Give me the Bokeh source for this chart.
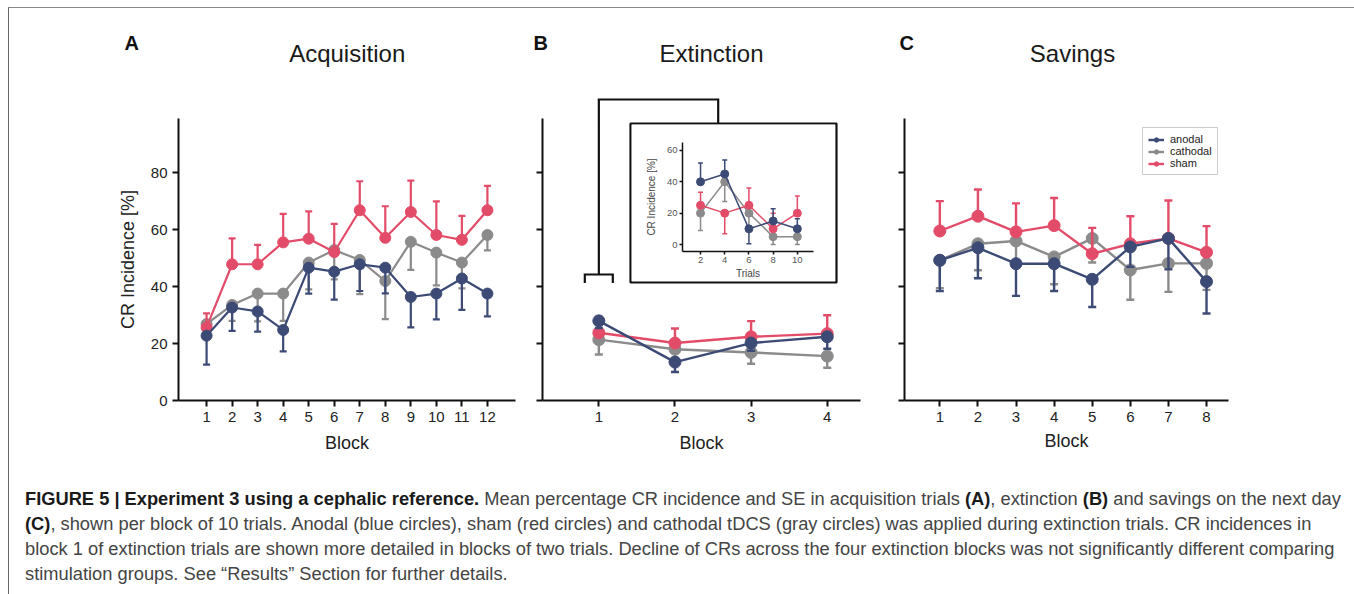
from bokeh.plotting import figure
from bokeh.models import (Range1d, Legend, LegendItem, FixedTicker, Div, GridBox)
from bokeh.core.properties import value
from bokeh.layouts import row, column
from bokeh.embed import file_html
from bokeh.resources import INLINE

# ---------------- data ----------------
groups = ["anodal", "cathodal", "sham"]

acq_blocks = [1, 2, 3, 4, 5, 6, 7, 8, 9, 10, 11, 12]
acq_anodal = [22.8, 32.7, 31.3, 24.8, 46.7, 45.3, 47.9, 46.7, 36.4, 37.6, 42.9, 37.6]
acq_anodal_bar = [12.6, 24.5, 24.2, 17.3, 37.6, 35.5, 38.5, 37.7, 25.7, 28.5, 31.9, 29.6]
acq_cathodal = [26.9, 33.6, 37.6, 37.6, 48.5, 52.9, 49.4, 42.0, 55.8, 52.0, 48.5, 58.2]
acq_cathodal_bar = [24.0, 28.0, 27.8, 28.0, 39.1, 42.6, 37.4, 28.6, 45.9, 40.5, 39.4, 52.8]
acq_sham = [25.7, 47.9, 47.9, 55.6, 56.9, 52.2, 66.9, 57.2, 66.3, 58.2, 56.5, 66.9]
acq_sham_bar = [30.6, 57.0, 54.7, 65.6, 66.5, 62.1, 77.1, 68.3, 77.3, 70.0, 64.9, 75.5]

ext_blocks = [1, 2, 3, 4]
ext_anodal = [28.0, 13.5, 20.2, 22.4]
ext_anodal_bar = [25.5, 10.0, 17.5, 18.2]
ext_cathodal = [21.4, 18.0, 16.9, 15.6]
ext_cathodal_bar = [16.2, 15.0, 12.9, 11.5]
ext_sham = [23.8, 20.2, 22.4, 23.5]
ext_sham_bar = [29.4, 25.3, 27.9, 30.0]

ins_trials = [2, 4, 6, 8, 10]
ins_anodal = [40, 45, 10, 15, 10]
ins_anodal_bar = [52, 54, 0.4, 22.8, 16.4]
ins_cathodal = [20, 40, 20, 5, 5]
ins_cathodal_bar = [9, 27.4, 12, 0, 0]
ins_sham = [25, 20, 25, 10, 20]
ins_sham_bar = [33.4, 6.8, 36, 20, 31]

sav_blocks = [1, 2, 3, 4, 5, 6, 7, 8]
sav_anodal = [49.3, 53.7, 48.1, 48.1, 42.6, 54.0, 57.0, 41.8]
sav_anodal_bar = [38.5, 43.0, 36.8, 38.5, 32.9, 47.0, 46.1, 30.6]
sav_cathodal = [49.3, 55.1, 56.1, 50.5, 57.0, 45.9, 48.2, 48.2]
sav_cathodal_bar = [39.5, 45.8, 48.0, 40.9, 48.5, 35.4, 38.2, 38.9]
sav_sham = [59.6, 64.8, 59.3, 61.5, 51.6, 55.1, 57.0, 52.1]
sav_sham_bar = [70.1, 74.2, 69.3, 71.2, 60.7, 64.8, 70.3, 61.3]

y_ticks = [0, 20, 40, 60, 80]
ins_y_ticks = [0, 20, 40, 60]

titles = ["Acquisition", "Extinction", "Savings"]
letters = ["A", "B", "C"]

# ---------------- styles ----------------
COLORS = {"anodal": "#3c4a76", "cathodal": "#8b8b8b", "sham": "#e34c68"}
FONT = "Liberation Sans"
DRAW_ORDER = ["cathodal", "sham", "anodal"]


def style_axes(p, tick_size="15px"):
    for ax in (p.xaxis, p.yaxis):
        ax.axis_line_width = 2
        ax.axis_line_color = "#111111"
        ax.major_tick_line_width = 2
        ax.major_tick_line_color = "#111111"
        ax.major_tick_out = 6
        ax.major_tick_in = 0
        ax.minor_tick_line_color = None
        ax.major_label_text_font = FONT
        ax.major_label_text_font_size = tick_size
        ax.major_label_text_color = "#222222"
        ax.axis_label_text_font = FONT
        ax.axis_label_text_font_style = "normal"
        ax.axis_label_text_color = "#222222"
    p.xgrid.grid_line_color = None
    p.ygrid.grid_line_color = None
    p.outline_line_color = None
    p.xaxis.major_label_standoff = 5
    p.yaxis.major_label_standoff = 5


def new_fig(w, h, mb, xr, yr, **kw):
    p = figure(width=w, height=h, x_range=Range1d(*xr), y_range=Range1d(*yr),
               output_backend="svg", toolbar_location=None,
               min_border_left=mb[0], min_border_right=mb[1],
               min_border_top=mb[2], min_border_bottom=mb[3], **kw)
    p.background_fill_color = "white"
    p.border_fill_color = "white"
    return p


def draw_series(p, x, series, size, lw, cap):
    rends = {}
    for g in DRAW_ORDER:
        mean, bar = series[g]
        c = COLORS[g]
        p.segment(x0=x, y0=mean, x1=x, y1=bar, line_color=c, line_width=lw)
        p.scatter(x=x, y=bar, marker="dash", size=cap, line_color=c, line_width=lw)
        ln = p.line(x=x, y=mean, line_color=c, line_width=lw)
        sc = p.scatter(x=x, y=mean, size=size, fill_color=c, line_color=c)
        rends[g] = [ln, sc]
    return rends


class Geo:
    """page-pixel -> data helper for decoration placement."""
    def __init__(self, left, bottom, x0, xs, y0, ys):
        self.left, self.bottom, self.x0, self.xs, self.y0, self.ys = left, bottom, x0, xs, y0, ys

    def x(self, px):
        return self.x0 + (px - self.left) / self.xs

    def y(self, py):
        return self.y0 + (self.bottom - py) / self.ys


YS = 2.844  # px per % in main panels
ROW_H = 400

# ---------------- header (panel letters and titles) ----------------
pH = figure(width=1339, height=62, x_range=Range1d(9, 1348), y_range=Range1d(70, 8),
            output_backend="svg", toolbar_location=None, x_axis_type=None, y_axis_type=None,
            min_border=0)
pH.outline_line_color = None
pH.xgrid.grid_line_color = None
pH.ygrid.grid_line_color = None
pH.text(x=[124, 533, 899], y=[42.7] * 3, text=letters, text_font=value(FONT),
        text_font_size=value("20px"), text_font_style="bold", text_color="#111111",
        text_align="left", text_baseline="alphabetic")
pH.text(x=[346.7, 711, 1072], y=[53.3] * 3, text=titles, text_font=value(FONT),
        text_font_size=value("24px"), text_color="#1a1a1a",
        text_align="center", text_baseline="alphabetic")

# ---------------- panel A ----------------
pA = new_fig(521, ROW_H, (169, 15, 48, 70), (-0.1, 13.1), (0, 282 / YS))
style_axes(pA)
pA.xaxis.ticker = FixedTicker(ticks=acq_blocks)
pA.yaxis.ticker = FixedTicker(ticks=y_ticks)
pA.xaxis.axis_label = "Block"
pA.yaxis.axis_label = "CR Incidence [%]"
pA.xaxis.axis_label_text_font_size = "18px"
pA.yaxis.axis_label_text_font_size = "18px"
pA.xaxis.axis_label_standoff = 8
pA.yaxis.axis_label_standoff = 10
draw_series(pA, acq_blocks, {"anodal": (acq_anodal, acq_anodal_bar),
                             "cathodal": (acq_cathodal, acq_cathodal_bar),
                             "sham": (acq_sham, acq_sham_bar)}, 11, 2.2, 7)

# ---------------- panel B ----------------
bx0, bx1 = 0.26, 4.437
pB = new_fig(350, ROW_H, (12, 20, 25, 70), (bx0, bx1), (0, 305 / YS))
style_axes(pB)
pB.xaxis.ticker = FixedTicker(ticks=ext_blocks)
pB.yaxis.ticker = FixedTicker(ticks=y_ticks)
pB.yaxis.major_label_overrides = {t: "" for t in y_ticks}
pB.yaxis.bounds = (0, 282 / YS)
pB.xaxis.axis_label = "Block"
pB.xaxis.axis_label_text_font_size = "18px"
pB.xaxis.axis_label_standoff = 8
gB = Geo(542, 400, bx0, 318 / (bx1 - bx0), 0, YS)

# inset frame (drawn under the inset figure) and bracket
pB.quad(left=gB.x(630), right=gB.x(836), top=gB.y(123), bottom=gB.y(282),
        fill_color="white", line_color="#111111", line_width=2.2)
pB.multi_line(xs=[[gB.x(584.3), gB.x(584.3), gB.x(612.3), gB.x(612.3)],
                  [1, 1, gB.x(717.7), gB.x(717.7)]],
              ys=[[gB.y(282.5), gB.y(274), gB.y(274), gB.y(282.5)],
                  [gB.y(274), gB.y(99), gB.y(99), gB.y(123)]],
              line_color="#111111", line_width=2.2, line_join="miter")
draw_series(pB, ext_blocks, {"anodal": (ext_anodal, ext_anodal_bar),
                             "cathodal": (ext_cathodal, ext_cathodal_bar),
                             "sham": (ext_sham, ext_sham_bar)}, 12, 2.4, 8)

# ---------------- inset ----------------
ix0, ix1 = 0.51, 0.51 + 131 / 12.1
iy0 = -7 / 1.567
iy1 = iy0 + 109 / 1.567
pI = new_fig(204, 157, (51, 22, 18, 30), (ix0, ix1), (iy0, iy1))
style_axes(pI, tick_size="9.5px")
for ax in (pI.xaxis, pI.yaxis):
    ax.axis_line_width = 1.5
    ax.major_tick_line_width = 1.5
    ax.major_tick_out = 3
    ax.major_label_text_color = "#555555"
    ax.axis_label_text_font_size = "10px"
    ax.axis_label_text_color = "#444444"
pI.xaxis.axis_label_standoff = 2
pI.yaxis.axis_label_standoff = 7
pI.xaxis.major_label_standoff = 2
pI.yaxis.major_label_standoff = 2
pI.xaxis.ticker = FixedTicker(ticks=ins_trials)
pI.yaxis.ticker = FixedTicker(ticks=ins_y_ticks)
pI.xaxis.axis_label = "Trials"
pI.yaxis.axis_label = "CR Incidence [%]"
draw_series(pI, ins_trials, {"anodal": (ins_anodal, ins_anodal_bar),
                             "cathodal": (ins_cathodal, ins_cathodal_bar),
                             "sham": (ins_sham, ins_sham_bar)}, 8, 1.5, 5)

gridB = GridBox(children=[(pB, 0, 0, 3, 3), (pI, 1, 1)],
                rows=["54px", "157px", "189px"], cols=["101px", "204px", "45px"])

# ---------------- panel C ----------------
cx0, cx1 = 0.073, 0.073 + 324 / 38.1
pC = new_fig(468, ROW_H, (24, 120, 48, 70), (cx0, cx1), (0, 282 / YS))
style_axes(pC)
pC.xaxis.ticker = FixedTicker(ticks=sav_blocks)
pC.yaxis.ticker = FixedTicker(ticks=y_ticks)
pC.yaxis.major_label_overrides = {t: "" for t in y_ticks}
pC.xaxis.axis_label = "Block"
pC.xaxis.axis_label_text_font_size = "18px"
pC.xaxis.axis_label_standoff = 6
rC = draw_series(pC, sav_blocks, {"anodal": (sav_anodal, sav_anodal_bar),
                                  "cathodal": (sav_cathodal, sav_cathodal_bar),
                                  "sham": (sav_sham, sav_sham_bar)}, 12, 2.4, 8)

legend = Legend(items=[LegendItem(label=g, renderers=rC[g]) for g in groups],
                location=(238, 225), orientation="vertical",
                label_text_font=FONT, label_text_font_size="11px", label_text_color="#222222",
                label_height=11, glyph_height=11, glyph_width=16, label_standoff=6,
                spacing=0, padding=5, margin=0,
                border_line_color="#9a9a9a", border_line_width=1,
                background_fill_color="white", background_fill_alpha=1)
pC.add_layout(legend, "center")

# ---------------- caption ----------------
cap_html = (
    '<div style="font-family:\'Liberation Sans\',Arial,sans-serif;font-size:18.3px;'
    'line-height:25px;padding:11px 0 0 11px;white-space:nowrap;color:#444444;">'
    '<b style="color:#1a1a1a">FIGURE 5 | Experiment 3 using a cephalic reference.</b> '
    'Mean percentage CR incidence and SE in acquisition trials <b style="color:#1a1a1a">(A)</b>, '
    'extinction <b style="color:#1a1a1a">(B)</b> and savings on the next day<br>'
    '<b style="color:#1a1a1a">(C)</b>, shown per block of 10 trials. Anodal (blue circles), sham (red circles) '
    'and cathodal tDCS (gray circles) was applied during extinction trials. CR incidences in<br>'
    'block 1 of extinction trials are shown more detailed in blocks of two trials. Decline of CRs '
    'across the four extinction blocks was not significantly different comparing<br>'
    'stimulation groups. See \u201cResults\u201d Section for further details.'
    '</div>'
)
caption = Div(text=cap_html, width=1339, height=116)

layout = column(pH, row(pA, gridB, pC), caption, margin=(7, 0, 0, 8),
                styles={"border-top": "1px solid #8a8a8a", "border-left": "1px solid #666666",
                        "border-right": "1px solid #777777"})

open("out.html", "w").write(file_html(layout, INLINE))
